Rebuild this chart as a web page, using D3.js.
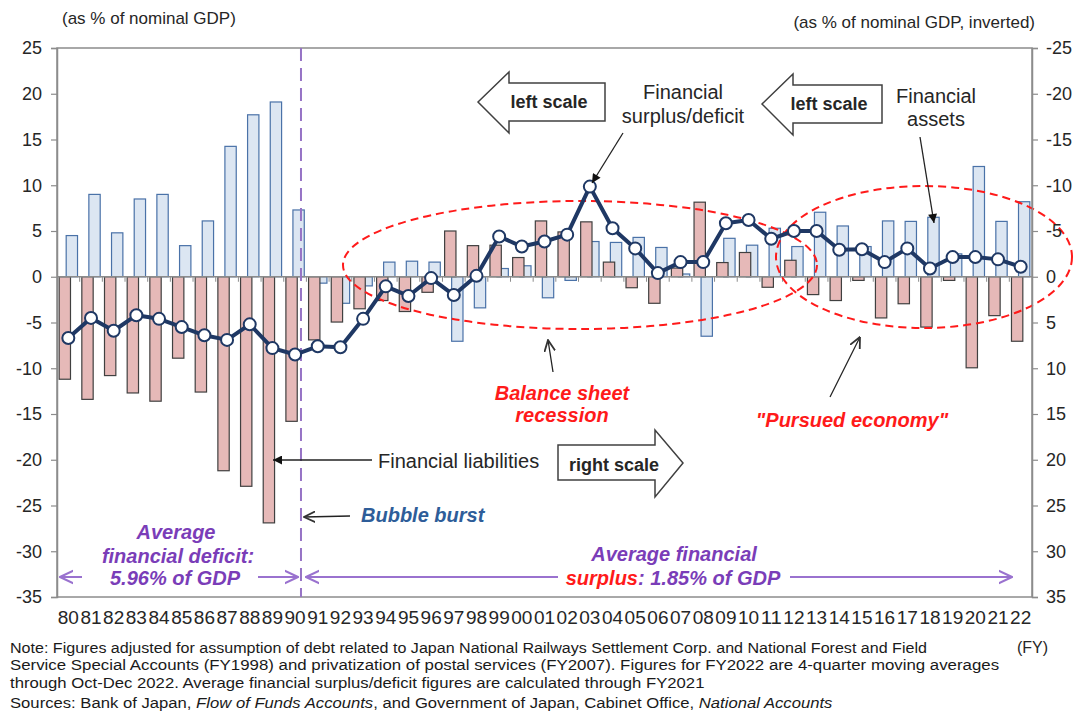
<!DOCTYPE html>
<html><head><meta charset="utf-8">
<script src="https://cdn.jsdelivr.net/npm/d3@7"></script>
<style>body{margin:0;background:#fff}svg{display:block;font-family:"Liberation Sans",Arial,sans-serif}</style>
</head><body><svg id="c" width="1080" height="720"></svg>
<script>
// ---- data ----
const years = ["80","81","82","83","84","85","86","87","88","89","90","91","92","93","94","95","96","97","98","99",
  "00","01","02","03","04","05","06","07","08","09","10","11","12","13","14","15","16","17","18","19","20","21","22"];
// Financial assets (left scale, % of GDP)
const assets = [4.5,9.0,4.8,8.5,9.0,3.4,6.1,14.25,17.7,19.1,7.3,-0.7,-2.9,-1.0,1.6,1.7,1.6,-7.05,-3.4,0.9,
  1.2,-2.3,-0.4,3.85,3.75,4.3,3.2,0.3,-6.5,4.2,3.45,5.3,3.3,7.05,5.55,3.3,6.1,6.05,6.5,2.5,12.05,6.05,8.2];
// Financial liabilities (right scale, inverted, % of GDP)
const liabilities = [11.2,13.4,10.8,12.7,13.6,8.9,12.6,21.2,22.9,26.9,15.8,6.9,4.95,3.5,2.6,3.8,1.7,-5.0,-3.4,-3.45,
  -2.1,-6.1,-4.9,-6.0,-1.6,1.2,2.9,-0.95,-8.15,-1.55,-2.65,1.15,-1.8,1.95,2.6,0.4,4.5,2.95,5.5,0.4,9.95,4.25,7.05];
// Financial surplus/deficit (left scale, % of GDP)
const surplus = [-6.7,-4.5,-5.9,-4.2,-4.6,-5.5,-6.4,-6.9,-5.2,-7.8,-8.5,-7.6,-7.7,-4.6,-1.05,-2.1,-0.15,-2.0,0.1,4.4,
  3.3,3.85,4.6,9.85,5.3,3.1,0.4,1.6,1.6,5.85,6.2,4.15,5.0,5.0,2.95,3.0,1.6,3.1,0.9,2.15,2.15,1.9,1.1];
const leftTicks = [25,20,15,10,5,0,-5,-10,-15,-20,-25,-30,-35];
const rightTicks = [-25,-20,-15,-10,-5,0,5,10,15,20,25,30,35];

// ---- layout ----
const svg = d3.select("#c");
const L = 57, R = 1032, T = 48, B = 597;
const x = d3.scaleBand().domain(years).range([L, R]);
const yL = d3.scaleLinear().domain([-35, 25]).range([B, T]);
const yR = d3.scaleLinear().domain([-25, 35]).range([T, B]);
const bw = x.bandwidth(), barW = bw * 0.5, off = bw * 0.155;
const cx = d => x(d) + bw / 2;
const navy = "#1f3864", purple = "#7a3db8", purpleL = "#9a72cf", red = "#ff1a1a";

const defs = svg.append("defs");
function marker(id, filled, color, w, h) {
  const m = defs.append("marker").attr("id", id).attr("viewBox", "0 0 10 10")
    .attr("refX", filled ? 10 : 9.5).attr("refY", 5).attr("markerUnits", "userSpaceOnUse")
    .attr("markerWidth", w).attr("markerHeight", h).attr("orient", "auto");
  if (filled) m.append("path").attr("d", "M0,0L10,5L0,10z").attr("fill", color);
  else m.append("path").attr("d", "M0,0.5L9.5,5L0,9.5").attr("fill", "none").attr("stroke", color).attr("stroke-width", 1.5);
}
marker("af", true, "#111", 11, 9);
marker("ao", false, "#333", 12, 12);
marker("ap", false, purpleL, 14, 16);

// plot frame
svg.append("rect").attr("x", L).attr("y", T).attr("width", R - L).attr("height", B - T)
  .attr("fill", "none").attr("stroke", "#8c8c8c").attr("stroke-width", 1.5);

// blue bars (assets, left scale)
svg.append("g").selectAll("rect").data(years).join("rect")
  .attr("x", d => cx(d) + off - barW / 2)
  .attr("y", (d, i) => Math.min(yL(assets[i]), yL(0)))
  .attr("width", barW)
  .attr("height", (d, i) => Math.abs(yL(assets[i]) - yL(0)))
  .attr("fill", "#dce6f2").attr("stroke", "#4a72a8").attr("stroke-width", 1.2);

// pink bars (liabilities, right scale inverted)
svg.append("g").selectAll("rect").data(years).join("rect")
  .attr("x", d => cx(d) - off - barW / 2)
  .attr("y", (d, i) => Math.min(yR(liabilities[i]), yR(0)))
  .attr("width", barW)
  .attr("height", (d, i) => Math.abs(yR(liabilities[i]) - yR(0)))
  .attr("fill", "#e6b9b8").attr("stroke", "#404040").attr("stroke-width", 1.2);

// zero line with category ticks
svg.append("line").attr("x1", L).attr("x2", R).attr("y1", yL(0)).attr("y2", yL(0))
  .attr("stroke", "#8c8c8c").attr("stroke-width", 1.5);
svg.append("g").selectAll("line").data(years.slice(1)).join("line")
  .attr("x1", d => x(d)).attr("x2", d => x(d)).attr("y1", yL(0)).attr("y2", yL(0) + 5)
  .attr("stroke", "#8c8c8c").attr("stroke-width", 1);

// red dashed ellipses
svg.append("ellipse").attr("cx", 580).attr("cy", 265).attr("rx", 237).attr("ry", 64)
  .attr("fill", "none").attr("stroke", red).attr("stroke-width", 2).attr("stroke-dasharray", "8,5");
svg.append("ellipse").attr("cx", 924).attr("cy", 257).attr("rx", 148).attr("ry", 71)
  .attr("fill", "none").attr("stroke", red).attr("stroke-width", 2).attr("stroke-dasharray", "8,5");

// bubble burst dashed line
const xb = x("90") + bw * 0.76;
svg.append("line").attr("x1", xb).attr("x2", xb).attr("y1", T).attr("y2", B)
  .attr("stroke", "#9673c5").attr("stroke-width", 2).attr("stroke-dasharray", "13,7");

// surplus line
svg.append("path").datum(surplus)
  .attr("d", d3.line().x((d, i) => cx(years[i])).y(d => yL(d)))
  .attr("fill", "none").attr("stroke", navy).attr("stroke-width", 4).attr("stroke-linejoin", "round");
svg.append("g").selectAll("circle").data(surplus).join("circle")
  .attr("cx", (d, i) => cx(years[i])).attr("cy", d => yL(d)).attr("r", 6)
  .attr("fill", "#fff").attr("stroke", navy).attr("stroke-width", 2);

// axes
const ax = svg.append("g").attr("transform", `translate(${L},0)`)
  .call(d3.axisLeft(yL).tickValues(leftTicks).tickSize(6).tickPadding(9).tickFormat(d => String(d)));
const ay = svg.append("g").attr("transform", `translate(${R},0)`)
  .call(d3.axisRight(yR).tickValues(rightTicks).tickSize(6).tickPadding(8).tickFormat(d => String(d)));
[ax, ay].forEach(g => {
  g.select(".domain").attr("stroke", "#8c8c8c").attr("stroke-width", 1.5);
  g.selectAll(".tick line").attr("stroke", "#8c8c8c").attr("stroke-width", 1.2);
  g.selectAll("text").attr("font-size", 18).attr("fill", "#262626").attr("font-family", "Liberation Sans");
});
const axb = svg.append("g").attr("transform", `translate(0,${B})`)
  .call(d3.axisBottom(x).tickSize(0).tickPadding(14));
axb.select(".domain").remove();
axb.selectAll("text").attr("font-size", 18).attr("fill", "#262626").attr("font-family", "Liberation Sans")
  .attr("textLength", bw - 1.5).attr("lengthAdjust", "spacingAndGlyphs");

// ---- text helpers ----
function txt(s, xx, yy, o = {}) {
  return svg.append("text").attr("x", xx).attr("y", yy).attr("font-size", o.size || 18)
    .attr("font-weight", o.bold ? "bold" : null).attr("font-style", o.italic ? "italic" : null)
    .attr("text-anchor", o.anchor || "start").attr("fill", o.fill || "#262626").text(s);
}
function line(x1, y1, x2, y2, m, col = "#222", w = 1.3) {
  svg.append("line").attr("x1", x1).attr("y1", y1).attr("x2", x2).attr("y2", y2)
    .attr("stroke", col).attr("stroke-width", w).attr("marker-end", m ? `url(#${m})` : null);
}
function poly(pts) {
  svg.append("polygon").attr("points", pts.map(p => p.join(",")).join(" "))
    .attr("fill", "#fff").attr("stroke", "#404040").attr("stroke-width", 1.5);
}

// axis titles
txt("(as % of nominal GDP)", 62, 24, { size: 17 });
txt("(as % of nominal GDP, inverted)", 1035, 28, { size: 17, anchor: "end" });
txt("(FY)", 1048, 653, { size: 16, anchor: "end" });

// scale arrows
poly([[478,102],[509,72],[509,83],[605,83],[605,121],[509,121],[509,133]]);
txt("left scale", 549, 108, { bold: true, anchor: "middle" });
poly([[762,104],[793,74],[793,85],[882,85],[882,123],[793,123],[793,135]]);
txt("left scale", 829, 110, { bold: true, anchor: "middle" });
poly([[558,445],[655,445],[655,430],[683,463],[655,497],[655,480],[558,480]]);
txt("right scale", 614, 471, { bold: true, anchor: "middle" });

// labels with arrows
txt("Financial", 683, 99, { size: 20, anchor: "middle" });
txt("surplus/deficit", 683, 123, { size: 20, anchor: "middle" });
line(623, 133, 592, 183, "af");
txt("Financial", 936, 103, { size: 20, anchor: "middle" });
txt("assets", 936, 126, { size: 20, anchor: "middle" });
line(920, 137, 934, 223, "af");
txt("Financial liabilities", 378, 468, { size: 20 });
line(372, 460, 273, 460, "af");
txt("Bubble burst", 361, 522, { size: 20, bold: true, italic: true, fill: "#2e5d99" });
line(350, 516, 304, 517, "ao");
txt("Balance sheet", 562, 400, { size: 20, bold: true, italic: true, fill: red, anchor: "middle" });
txt("recession", 562, 422, { size: 20, bold: true, italic: true, fill: red, anchor: "middle" });
line(553, 372, 548, 340, "ao");
txt("\"Pursued economy\"", 852, 427, { size: 20, bold: true, italic: true, fill: red, anchor: "middle" });
line(830, 397, 860, 337, "ao");

// average annotations
txt("Average", 176, 539, { size: 20, bold: true, italic: true, fill: purple, anchor: "middle" });
txt("financial deficit:", 178, 563, { size: 20, bold: true, italic: true, fill: purple, anchor: "middle" });
txt("5.96% of GDP", 175, 585, { size: 20, bold: true, italic: true, fill: purple, anchor: "middle" });
txt("Average financial", 674, 561, { size: 20, bold: true, italic: true, fill: purple, anchor: "middle" });
const s2 = txt("", 673, 585, { size: 20, bold: true, italic: true, fill: purple, anchor: "middle" });
s2.append("tspan").attr("fill", red).text("surplus");
s2.append("tspan").text(": 1.85% of GDP");
line(82, 577, 60, 577, "ap", purpleL, 2);
line(258, 577, 298, 577, "ap", purpleL, 2);
line(558, 577, 306, 577, "ap", purpleL, 2);
line(790, 577, 1012, 577, "ap", purpleL, 2);

// notes (fit to the reference line widths)
function fitLine(parts, x0, y0, width, size) {
  const t = svg.append("text").attr("font-size", size).attr("fill", "#1a1a1a");
  parts.forEach(p => t.append("tspan").attr("font-style", p.i ? "italic" : null).text(p.t));
  const w = t.node().getComputedTextLength();
  t.attr("transform", `translate(${x0},${y0}) scale(${width / w},1)`);
}
fitLine([{ t: "Note: Figures adjusted for assumption of debt related to Japan National Railways Settlement Corp. and National Forest and Field" }], 10, 653, 918, 15);
fitLine([{ t: "Service Special Accounts (FY1998) and privatization of postal services (FY2007). Figures for FY2022 are 4-quarter moving averages" }], 10, 670, 990, 15);
fitLine([{ t: "through Oct-Dec 2022. Average financial surplus/deficit figures are calculated through FY2021" }], 10, 688, 695, 15);
fitLine([{ t: "Sources: Bank of Japan, " }, { t: "Flow of Funds Accounts", i: true }, { t: ", and Government of Japan, Cabinet Office, " }, { t: "National Accounts", i: true }], 10, 708, 823, 15);
</script></body></html>
